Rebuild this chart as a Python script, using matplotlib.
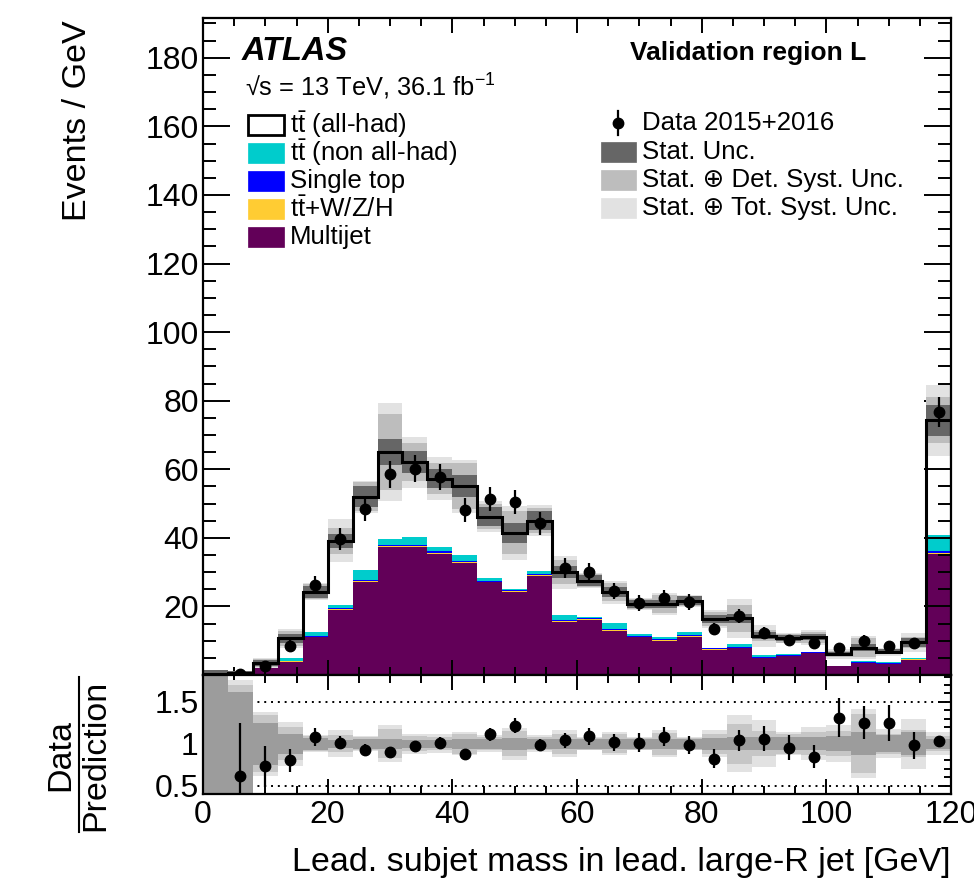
import numpy as np
import matplotlib
matplotlib.use("Agg")
import matplotlib.pyplot as plt
from matplotlib.patches import Rectangle
from matplotlib.lines import Line2D
from matplotlib.ticker import MultipleLocator, FixedLocator, FuncFormatter

plt.rcParams['font.family'] = ['Liberation Sans', 'DejaVu Sans']
plt.rcParams['mathtext.fontset'] = 'custom'
plt.rcParams['mathtext.rm'] = 'Liberation Sans'
plt.rcParams['mathtext.it'] = 'Liberation Sans:italic'
plt.rcParams['mathtext.bf'] = 'Liberation Sans:bold'

# ---------------- data ----------------
bin_edges = [0, 4, 8, 12, 16, 20, 24, 28, 32, 36, 40, 44, 48, 52, 56, 60,
             64, 68, 72, 76, 80, 84, 88, 92, 96, 100, 104, 108, 112, 116, 120]

multijet = [0.0, 0.3, 1.9, 3.9, 11.0, 19.0, 27.0, 37.2, 37.2, 35.2, 32.6, 27.0, 24.3, 28.9, 15.6,
            16.1, 12.9, 11.0, 10.0, 11.2, 7.4, 7.9, 4.9, 5.5, 6.4, 2.5, 3.4, 3.2, 4.5, 35.2]
ttV = [0.0, 0.0, 0.05, 0.1, 0.1, 0.2, 0.3, 0.3, 0.3, 0.3, 0.3, 0.2, 0.2, 0.2, 0.2,
       0.2, 0.2, 0.15, 0.15, 0.15, 0.1, 0.1, 0.1, 0.1, 0.1, 0.05, 0.05, 0.05, 0.05, 0.4]
single_top = [0.0, 0.0, 0.05, 0.1, 0.2, 0.2, 0.3, 0.4, 0.5, 0.6, 0.4, 0.3, 0.4, 0.3, 0.3,
              0.3, 0.3, 0.3, 0.3, 0.2, 0.3, 0.3, 0.2, 0.2, 0.1, 0.1, 0.3, 0.2, 0.2, 0.6]
tt_nonallhad = [0.0, 0.0, 0.3, 0.9, 1.1, 1.0, 3.0, 1.8, 2.1, 1.2, 1.7, 0.7, 0.1, 0.9, 1.3,
                0.4, 1.8, 0.4, 0.5, 0.9, 0.1, 0.6, 0.5, 0.3, 0.1, 0.0, 0.2, 0.3, 0.3, 4.7]
tt_allhad = [0.15, 0.35, 1.2, 5.7, 11.9, 18.7, 21.4, 25.3, 22.0, 20.0, 20.1, 18.0, 16.5, 14.7, 12.6,
             10.5, 8.9, 8.85, 9.75, 9.15, 8.4, 7.6, 5.8, 4.6, 4.3, 3.45, 4.05, 3.05, 4.45, 33.4]

data = [np.nan, 0.4, 2.55, 8.6, 26.2, 39.6, 48.4, 58.5, 60.2, 57.8, 48.1, 51.3, 50.5, 44.3, 31.2,
        29.9, 24.5, 21.0, 22.4, 21.2, 13.4, 17.2, 12.2, 10.2, 9.3, 8.0, 10.0, 8.5, 9.3, 76.7]
data_err = [np.nan, 0.41, 0.85, 1.47, 2.56, 3.15, 3.48, 3.82, 3.88, 3.80, 3.47, 3.58, 3.55, 3.33, 2.79,
            2.73, 2.47, 2.29, 2.37, 2.30, 1.83, 2.07, 1.75, 1.60, 1.52, 1.41, 1.58, 1.46, 1.52, 4.38]

# relative uncertainties on the prediction
stat_rel = [8.0, 0.62, 0.25, 0.12, 0.07, 0.05, 0.06, 0.06, 0.05, 0.05, 0.06, 0.06, 0.07, 0.06, 0.06,
            0.06, 0.06, 0.06, 0.06, 0.06, 0.07, 0.08, 0.08, 0.08, 0.08, 0.09, 0.14, 0.10, 0.14, 0.06]
det_rel = [8.0, 0.70, 0.34, 0.20, 0.09, 0.10, 0.08, 0.17, 0.09, 0.08, 0.12, 0.08, 0.15, 0.08, 0.12,
           0.07, 0.11, 0.07, 0.13, 0.07, 0.12, 0.24, 0.15, 0.12, 0.14, 0.15, 0.35, 0.12, 0.16, 0.09]
tot_rel = [8.0, 0.76, 0.38, 0.26, 0.10, 0.16, 0.09, 0.22, 0.12, 0.11, 0.14, 0.10, 0.19, 0.10, 0.16,
           0.08, 0.14, 0.08, 0.16, 0.08, 0.16, 0.34, 0.28, 0.14, 0.20, 0.22, 0.41, 0.17, 0.30, 0.14]

legend_left = [r"$\mathrm{t\bar{t}}$ (all-had)", r"$\mathrm{t\bar{t}}$ (non all-had)", "Single top",
               r"$\mathrm{t\bar{t}}$+W/Z/H", "Multijet"]
legend_right = ["Data 2015+2016", "Stat. Unc.", "Stat. \u2295 Det. Syst. Unc.", "Stat. \u2295 Tot. Syst. Unc."]

# ---------------- styles ----------------
C_MJ = '#620058'
C_TTV = '#ffcc33'
C_ST = '#0000ff'
C_NAH = '#00cccc'
C_STAT, C_DET, C_TOT = '#666666', '#bdbdbd', '#e2e2e2'
R_STAT, R_DET, R_TOT = '#9c9c9c', '#c6c6c6', '#e2e2e2'

W, H = 974, 885
fig = plt.figure(figsize=(W / 100, H / 100), dpi=100)
def fx(px): return px / W
def fy(py): return 1 - py / H

L, R, T, M, B = 203, 951, 18, 675, 794
ax = fig.add_axes([fx(L), fy(M), (R - L) / W, (M - T) / H])
rax = fig.add_axes([fx(L), fy(B), (R - L) / W, (B - M) / H], sharex=ax)

edges = np.array(bin_edges, float)
centers = 0.5 * (edges[:-1] + edges[1:])
mj = np.array(multijet); tv = np.array(ttV); st = np.array(single_top)
nah = np.array(tt_nonallhad); ah = np.array(tt_allhad)
d = np.array(data); de = np.array(data_err)

# stacked histogram
base = np.zeros_like(mj)
for vals, col in [(mj, C_MJ), (tv, C_TTV), (st, C_ST), (nah, C_NAH), (ah, 'white')]:
    ax.stairs(base + vals, edges, baseline=base, fill=True, color=col, lw=0, zorder=1)
    base = base + vals
total = base

# uncertainty bands
for rel, col in [(tot_rel, C_TOT), (det_rel, C_DET), (stat_rel, C_STAT)]:
    rel = np.array(rel)
    ax.stairs(total * (1 + rel), edges, baseline=np.clip(total * (1 - rel), 0, None),
              fill=True, color=col, lw=0, zorder=2)
ax.stairs(total, edges, color='black', lw=2.2, zorder=3)

ms = 7.5
ax.errorbar(centers, d, yerr=de, fmt='o', color='black', ms=ms, elinewidth=1.6, capsize=0, zorder=5)

# ratio
for rel, col in [(tot_rel, R_TOT), (det_rel, R_DET), (stat_rel, R_STAT)]:
    rel = np.array(rel)
    rax.stairs(1 + rel, edges, baseline=1 - rel, fill=True, color=col, lw=0, zorder=2)
for yv in [0.5, 1.0, 1.5]:
    rax.axhline(yv, color='black', ls=(0, (1, 2.5)), lw=1.4, zorder=1)
ratio = d / total
ratio_err = de / total
rax.errorbar(centers, ratio, yerr=ratio_err, fmt='o', color='black', ms=ms, elinewidth=1.6,
             capsize=0, zorder=5)

# axes styling
ax.set_xlim(0, 120)
ax.set_ylim(0, 191.6)
rax.set_ylim(0.4, 1.82)
for a in (ax, rax):
    for s in a.spines.values():
        s.set_linewidth(1.6)
    a.tick_params(which='both', direction='in', top=True, right=True, width=1.4, labelsize=23)
    a.xaxis.set_major_locator(MultipleLocator(20))
    a.xaxis.set_minor_locator(MultipleLocator(5))
ax.yaxis.set_major_locator(MultipleLocator(20))
ax.yaxis.set_minor_locator(MultipleLocator(5))
ax.yaxis.set_major_formatter(FuncFormatter(lambda v, p: '' if v == 0 else f'{v:g}'))
ax.tick_params(axis='x', which='major', length=11)
ax.tick_params(axis='x', which='minor', length=6)
ax.tick_params(axis='y', which='major', length=19.5, pad=3)
ax.tick_params(axis='y', which='minor', length=9.5)
ax.tick_params(axis='x', labelbottom=False)
rax.yaxis.set_major_locator(FixedLocator([0.5, 1.0, 1.5]))
rax.yaxis.set_minor_locator(MultipleLocator(0.1))
rax.yaxis.set_major_formatter(FuncFormatter(lambda v, p: f'{v:g}'))
rax.tick_params(axis='y', which='major', length=9.5, pad=3)
rax.tick_params(axis='y', which='minor', length=5)
rax.tick_params(axis='x', which='major', length=11, pad=4)
rax.tick_params(axis='x', which='minor', length=6)

# axis titles
fig.text(fx(R), fy(862), "Lead. subjet mass in lead. large-R jet [GeV]", ha='right', va='center', fontsize=24.5)
fig.text(fx(78), fy(20), "Events / GeV", rotation=90, ha='center', va='top', fontsize=24.5)
fig.text(fx(61), fy(755), "Data", rotation=90, ha='center', va='center', fontsize=24.5)
fig.text(fx(96), fy(755), "Prediction", rotation=90, ha='center', va='center', fontsize=24.5)
fig.add_artist(Line2D([fx(79), fx(79)], [fy(677), fy(832)], color='black', lw=1.5))

# labels
fig.text(fx(242), fy(52), "ATLAS", fontsize=23.5, fontweight='bold', fontstyle='italic', ha='left', va='center')
fig.text(fx(245), fy(87), "\u221as = 13 TeV, 36.1 fb$^{-1}$", fontsize=18.3, ha='left', va='center')
fig.text(fx(630), fy(53), "Validation region L", fontsize=19, fontweight='bold', ha='left', va='center')

# left legend
rows_l = [125, 153, 181, 209, 237]
cols_l = [('white', 'black'), (C_NAH, C_NAH), (C_ST, C_ST), (C_TTV, C_TTV), (C_MJ, C_MJ)]
for lab, yy, (fc, ec) in zip(legend_left, rows_l, cols_l):
    fig.add_artist(Rectangle((fx(248), fy(yy + 10)), 36 / W, 20 / H, facecolor=fc, edgecolor=ec,
                             lw=2.0 if fc == 'white' else 0.5, transform=fig.transFigure))
    fig.text(fx(290), fy(yy), lab, fontsize=18.6, ha='left', va='center')

# right legend
rows_r = [123, 152, 180, 208]
fig.add_artist(Line2D([fx(618), fx(618)], [fy(111), fy(135)], color='black', lw=1.6))
fig.add_artist(Line2D([fx(618)], [fy(123)], marker='o', color='black', ms=ms))
for col, yy in zip([C_STAT, C_DET, C_TOT], rows_r[1:]):
    fig.add_artist(Rectangle((fx(601), fy(yy + 10)), 35 / W, 20 / H, facecolor=col, edgecolor=col,
                             lw=0.5, transform=fig.transFigure))
for lab, yy in zip(legend_right, rows_r):
    fig.text(fx(642), fy(yy), lab, fontsize=18.6, ha='left', va='center')

fig.savefig("out.png", dpi=100)
